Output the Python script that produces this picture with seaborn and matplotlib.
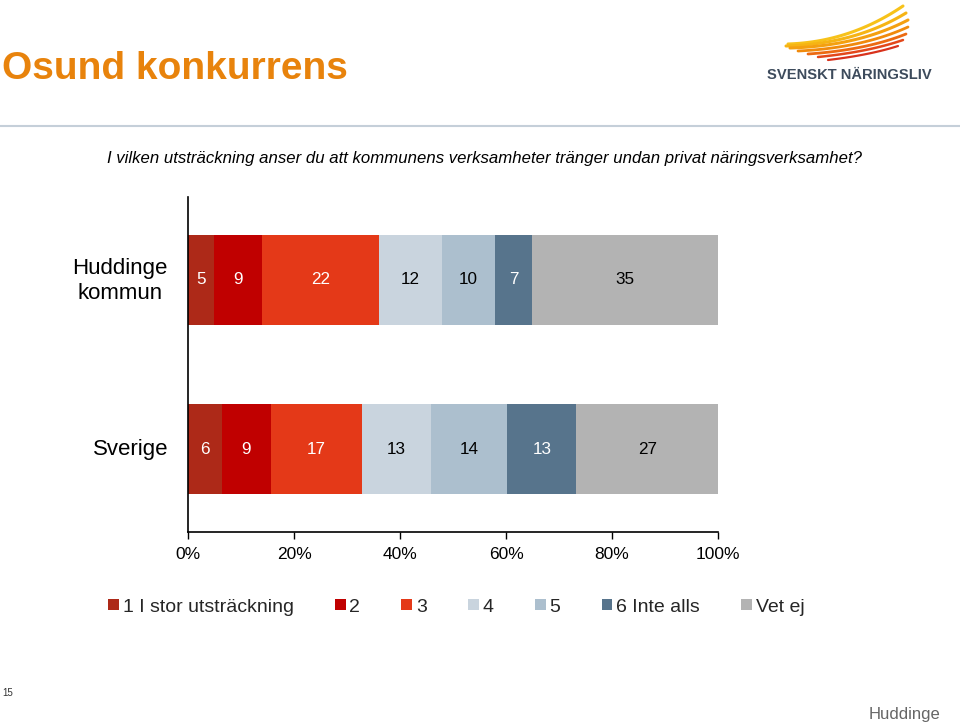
import numpy as np
import pandas as pd
import matplotlib
matplotlib.use("Agg")
import matplotlib.pyplot as plt
from matplotlib.patches import Patch
import seaborn as sns

# ---- data ----
categories = ["Huddinge\nkommun", "Sverige"]
series = ["1 I stor utsträckning", "2", "3", "4", "5", "6 Inte alls", "Vet ej"]
huddinge = [4.9, 9.1, 22.1, 11.9, 10.0, 7.0, 35.1]
sverige = [6.4, 9.2, 17.2, 13.0, 14.4, 13.0, 26.7]
huddinge_labels = ["5", "9", "22", "12", "10", "7", "35"]
sverige_labels = ["6", "9", "17", "13", "14", "13", "27"]
colors = ["#AD2918", "#C00000", "#E43918", "#C9D4DE", "#ACBFCE", "#57748C", "#B3B3B3"]
label_colors = ["white", "white", "white", "black", "black", "white", "black"]
xticks = [0, 20, 40, 60, 80, 100]
xticklabels = ["0%", "20%", "40%", "60%", "80%", "100%"]

sns.set_theme(style="white")
plt.rcParams["font.family"] = ["Liberation Sans", "DejaVu Sans"]

fig = plt.figure(figsize=(9.6, 7.25), dpi=100)
ax = fig.add_axes([188 / 960, 1 - 532 / 725, 530 / 960, 335 / 725])

rows = []
for cat, vals, labs in zip(categories, [huddinge, sverige], [huddinge_labels, sverige_labels]):
    tot = sum(vals)
    shares = [v / tot * 100 for v in vals]
    cum = np.cumsum(shares)
    for i, s in enumerate(series):
        rows.append(dict(cat=cat, series=s, label=labs[i], share=shares[i],
                         cum=cum[i], start=cum[i] - shares[i]))
df = pd.DataFrame(rows)

# draw cumulative layers from back to front
for i in reversed(range(len(series))):
    sub = df[df["series"] == series[i]]
    sns.barplot(data=sub, x="cum", y="cat", order=categories, color=colors[i],
                width=0.533, saturation=1, ax=ax, orient="h", linewidth=0)

# labels
for _, r in df.iterrows():
    yi = categories.index(r["cat"])
    si = series.index(r["series"])
    ax.text(r["start"] + r["share"] / 2, yi, r["label"], ha="center",
            va="center", fontsize=12.3, color=label_colors[si])

ax.set_xlim(0, 100)
ax.set_ylim(1.49, -0.49)
ax.set_xlabel("")
ax.set_ylabel("")
ax.set_xticks(xticks)
ax.set_xticklabels(xticklabels, fontsize=12.5, color="black")
ax.set_yticks([])
for sp in ["top", "right"]:
    ax.spines[sp].set_visible(False)
for sp in ["left", "bottom"]:
    ax.spines[sp].set_visible(True)
    ax.spines[sp].set_color("black")
    ax.spines[sp].set_linewidth(1.2)
ax.tick_params(axis="x", direction="out", length=5, width=1, color="black",
               bottom=True, pad=6)

# category labels
fig.text(120 / 960, 1 - 281 / 725, categories[0], ha="center", va="center",
         fontsize=16, color="black", linespacing=1.25)
fig.text(168 / 960, 1 - 449 / 725, categories[1], ha="right", va="center",
         fontsize=16, color="black")

# legend
handles = [Patch(facecolor=c, edgecolor="none") for c in colors]
fig.legend(handles, series, loc="center left", bbox_to_anchor=(108 / 960, 1 - 607 / 725),
           ncol=7, frameon=False, fontsize=14, handlelength=0.55, handleheight=0.55,
           handletextpad=0.2, columnspacing=2.12, borderaxespad=0, borderpad=0)

# header
fig.text(2 / 960, 1 - 69 / 725, "Osund konkurrens", ha="left", va="center",
         fontsize=28, fontweight="bold", color="#E8830C")
fig.text(107 / 960, 1 - 158 / 725,
         "I vilken utsträckning anser du att kommunens verksamheter tränger undan privat näringsverksamhet?",
         ha="left", va="center", fontsize=12.1, style="italic", color="black")
fig.add_artist(plt.Line2D([0, 1], [1 - 126 / 725] * 2, transform=fig.transFigure,
                          color="#C5CFD9", linewidth=1.5))

# logo
lax = fig.add_axes([770 / 960, 1 - 68 / 725, 150 / 960, 66 / 725])
lax.set_xlim(770, 920)
lax.set_ylim(68, 2)
lax.axis("off")
t = np.linspace(0, 1, 40)
fan = [
    ((788, 44), (850, 42), (903, 6), "#F7C21A", 2.2),
    ((786, 46), (855, 44), (906, 13), "#F6B414", 2.2),
    ((790, 48), (858, 46), (908, 20), "#F4A010", 2.2),
    ((798, 51), (862, 48), (908, 27), "#F08A0C", 2.0),
    ((808, 54), (866, 50), (906, 34), "#EC6A12", 2.0),
    ((818, 57), (868, 52), (903, 40), "#E3471A", 1.8),
    ((828, 60), (870, 55), (898, 46), "#D8321C", 1.6),
]
for (x0, y0), (cx, cy), (x1, y1), c, lw in fan:
    xs = (1 - t) ** 2 * x0 + 2 * (1 - t) * t * cx + t ** 2 * x1
    ys = (1 - t) ** 2 * y0 + 2 * (1 - t) * t * cy + t ** 2 * y1
    lax.plot(xs, ys, color=c, linewidth=lw, solid_capstyle="round")
fig.text(767 / 960, 1 - 75 / 725, "SVENSKT NÄRINGSLIV", ha="left", va="center",
         fontsize=10.6, fontweight="bold", color="#3D4B5C")

# footer
fig.text(2 / 960, 1 - 693 / 725, "15", ha="left", va="center", fontsize=7, color="#333333")
fig.text(940 / 960, 1 - 715 / 725, "Huddinge", ha="right", va="center",
         fontsize=12, color="#666666")

fig.savefig("out.png", dpi=100)
